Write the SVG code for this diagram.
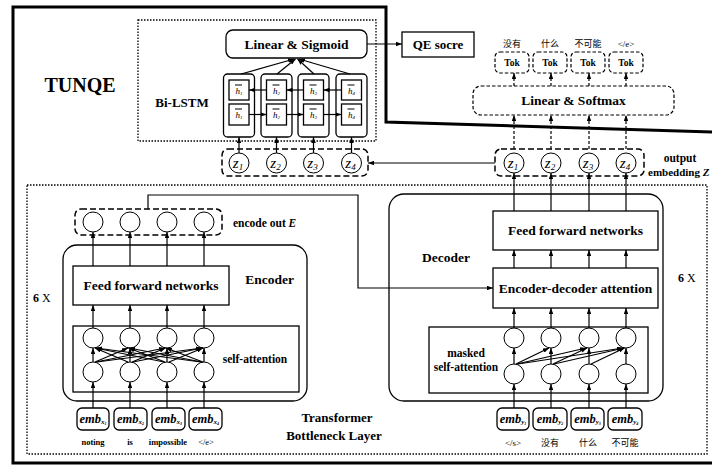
<svg xmlns="http://www.w3.org/2000/svg" width="712" height="466" viewBox="0 0 712 466">
<defs>
<marker id="ah" viewBox="0 0 8 6" refX="8" refY="3" markerWidth="6" markerHeight="4.5" orient="auto" markerUnits="userSpaceOnUse">
<path d="M0,0 L8,3 L0,6 z" fill="#000"/>
</marker>
<style>
.t{font-family:"Liberation Serif","Times New Roman",serif;font-weight:bold;fill:#000}
.n{font-family:"Liberation Serif","Times New Roman",serif;fill:#000}
.cjk{font-family:"Liberation Serif","Noto Sans CJK SC",serif;fill:#000}
.box{fill:#fff;stroke:#000;stroke-width:1.3}
.dash{fill:none;stroke:#000;stroke-width:1.5;stroke-dasharray:6 3}
.dash2{fill:none;stroke:#000;stroke-width:1.2;stroke-dasharray:3.5 2}
.dot{fill:none;stroke:#000;stroke-width:1.3;stroke-dasharray:1.5 1.5}
.c{fill:#fff;stroke:#000;stroke-width:1}
.a{stroke:#000;stroke-width:1.2;fill:none;marker-end:url(#ah)}
.ad{stroke:#000;stroke-width:1.2;fill:none;stroke-dasharray:3 2;marker-end:url(#ah)}
.l{stroke:#000;stroke-width:1;fill:none}
</style>
</defs>
<rect width="712" height="466" fill="#fff"/>

<!-- outer thick frame -->
<path d="M712,463 L13,463 L13,7 L386,7 L386,122 L712,132" fill="none" stroke="#000" stroke-width="3"/>

<g id="title"><text class="t" x="80" y="92" font-size="20" text-anchor="middle">TUNQE</text></g>

<!-- Bi-LSTM region -->
<g id="bilstm">
<rect class="dot" x="138" y="20" width="238" height="121"/>
<text class="t" x="182" y="107" font-size="13" text-anchor="middle">Bi-LSTM</text>
</g>
<g id="linear-sigmoid">
<rect class="box" x="226" y="30" width="141" height="28" rx="7"/>
<text class="t" x="296.5" y="49" font-size="13.5" text-anchor="middle">Linear &amp; Sigmoid</text>
</g>
<g id="qe-score">
<rect class="box" x="402" y="32" width="72" height="25"/>
<text class="t" x="438" y="49" font-size="13" text-anchor="middle">QE socre</text>
</g>

<g id="lstm-cells">
<rect class="box" x="223.5" y="74" width="31" height="63" rx="4"/>
<rect class="box" x="261" y="74" width="31" height="63" rx="4"/>
<rect class="box" x="298" y="74" width="31" height="63" rx="4"/>
<rect class="box" x="336" y="74" width="31" height="63" rx="4"/>
<rect class="box" x="229" y="80" width="20" height="20"/>
<rect class="box" x="229" y="104" width="20" height="21"/>
<rect class="box" x="266.5" y="80" width="20" height="20"/>
<rect class="box" x="266.5" y="104" width="20" height="21"/>
<rect class="box" x="303.5" y="80" width="20" height="20"/>
<rect class="box" x="303.5" y="104" width="20" height="21"/>
<rect class="box" x="341.5" y="80" width="20" height="20"/>
<rect class="box" x="341.5" y="104" width="20" height="21"/>
<g class="n" font-size="9" font-style="italic" text-anchor="middle">
<text x="239" y="94">h<tspan font-size="5" dy="1">1</tspan></text>
<text x="239" y="118">h<tspan font-size="5" dy="1">1</tspan></text>
<text x="276.5" y="94">h<tspan font-size="5" dy="1">2</tspan></text>
<text x="276.5" y="118">h<tspan font-size="5" dy="1">2</tspan></text>
<text x="313.5" y="94">h<tspan font-size="5" dy="1">3</tspan></text>
<text x="313.5" y="118">h<tspan font-size="5" dy="1">3</tspan></text>
<text x="351.5" y="94">h<tspan font-size="5" dy="1">4</tspan></text>
<text x="351.5" y="118">h<tspan font-size="5" dy="1">4</tspan></text>
</g>
<g class="l" stroke-width="0.7">
<path d="M235,85h7M235,109h7M272.5,85h7M272.5,109h7M309.5,85h7M309.5,109h7M347.5,85h7M347.5,109h7"/>
</g>
</g>

<g id="z-left">
<rect class="dash" x="222" y="149" width="146" height="27" rx="6"/>
<circle class="c" cx="239" cy="163" r="10"/>
<circle class="c" cx="276.5" cy="163" r="10"/>
<circle class="c" cx="313.5" cy="163" r="10"/>
<circle class="c" cx="351.5" cy="163" r="10"/>
<g class="n" font-size="15" font-style="italic" text-anchor="middle">
<text x="238" y="168">z<tspan font-size="9" dy="2">1</tspan></text>
<text x="275.5" y="168">z<tspan font-size="9" dy="2">2</tspan></text>
<text x="312.5" y="168">z<tspan font-size="9" dy="2">3</tspan></text>
<text x="350.5" y="168">z<tspan font-size="9" dy="2">4</tspan></text>
</g>
</g>

<!-- right top: output -->
<g id="tok">
<rect class="dash2" x="495" y="52" width="34" height="21" rx="5"/>
<rect class="dash2" x="533" y="52" width="34" height="21" rx="5"/>
<rect class="dash2" x="571" y="52" width="34" height="21" rx="5"/>
<rect class="dash2" x="609" y="52" width="34" height="21" rx="5"/>
<g class="t" font-size="9.5" text-anchor="middle">
<text x="512" y="66">Tok</text><text x="550" y="66">Tok</text><text x="588" y="66">Tok</text><text x="626" y="66">Tok</text>
</g>
<g class="cjk" font-size="9" text-anchor="middle">
<text x="512" y="47">没有</text><text x="550" y="47">什么</text><text x="588" y="47">不可能</text><text x="626" y="47">&lt;/e&gt;</text>
</g>
</g>
<g id="linear-softmax">
<rect class="dash2" x="473" y="86" width="201" height="29" rx="8"/>
<text class="t" x="573.5" y="105" font-size="13.5" text-anchor="middle">Linear &amp; Softmax</text>
</g>
<g id="z-right">
<rect class="dash" x="495" y="149" width="149" height="27" rx="6"/>
<circle class="c" cx="514" cy="163" r="10"/>
<circle class="c" cx="551" cy="163" r="10"/>
<circle class="c" cx="589" cy="163" r="10"/>
<circle class="c" cx="626" cy="163" r="10"/>
<g class="n" font-size="15" font-style="italic" text-anchor="middle">
<text x="513" y="168">z<tspan font-size="9" dy="2">1</tspan></text>
<text x="550" y="168">z<tspan font-size="9" dy="2">2</tspan></text>
<text x="588" y="168">z<tspan font-size="9" dy="2">3</tspan></text>
<text x="625" y="168">z<tspan font-size="9" dy="2">4</tspan></text>
</g>
<text class="t" x="680" y="162" font-size="11.5" text-anchor="middle">output</text>
<text class="t" x="648" y="176" font-size="11">embedding <tspan font-style="italic">Z</tspan></text>
</g>

<!-- Transformer region -->
<g id="transformer">
<rect class="dot" x="27" y="185" width="680" height="269"/>
<text class="t" x="337" y="422" font-size="13" text-anchor="middle">Transformer</text>
<text class="t" x="334" y="440" font-size="13" text-anchor="middle">Bottleneck Layer</text>
<text class="t" x="33" y="302" font-size="12">6 <tspan font-weight="normal">X</tspan></text>
<text class="t" x="678" y="282" font-size="12">6 <tspan font-weight="normal">X</tspan></text>
</g>

<g id="encoder">
<rect class="box" x="63" y="245" width="244" height="156" rx="14"/>
<text class="t" x="269.5" y="284" font-size="13.5" text-anchor="middle">Encoder</text>
<rect class="box" x="73" y="266" width="156" height="39"/>
<text class="t" x="151" y="290" font-size="13.5" text-anchor="middle">Feed forward networks</text>
<rect class="box" x="73" y="326" width="226" height="66"/>
<text class="t" x="255" y="363" font-size="11.5" text-anchor="middle">self-attention</text>
<g>
<circle class="c" cx="93" cy="338" r="10"/><circle class="c" cx="130" cy="338" r="10"/><circle class="c" cx="167" cy="338" r="10"/><circle class="c" cx="204" cy="338" r="10"/>
<circle class="c" cx="93" cy="372" r="10"/><circle class="c" cx="130" cy="372" r="10"/><circle class="c" cx="167" cy="372" r="10"/><circle class="c" cx="204" cy="372" r="10"/>
</g>
</g>
<g id="encode-out">
<rect class="dash" x="75" y="209" width="147" height="26" rx="6"/>
<circle class="c" cx="93" cy="222" r="10"/><circle class="c" cx="130" cy="222" r="10"/><circle class="c" cx="167" cy="222" r="10"/><circle class="c" cx="204" cy="222" r="10"/>
<text class="t" x="233" y="227" font-size="11.5">encode out <tspan font-style="italic">E</tspan></text>
</g>
<g id="emb-x">
<rect class="box" x="77" y="408" width="32" height="22" rx="5"/>
<rect class="box" x="114" y="408" width="33" height="22" rx="5"/>
<rect class="box" x="152" y="408" width="33" height="22" rx="5"/>
<rect class="box" x="189" y="408" width="33" height="22" rx="5"/>
<g class="t" font-size="12.5" font-style="italic" text-anchor="middle">
<text x="93" y="423">emb<tspan font-size="7" dy="1">x</tspan><tspan font-size="4" dy="1">1</tspan></text>
<text x="130.5" y="423">emb<tspan font-size="7" dy="1">x</tspan><tspan font-size="4" dy="1">2</tspan></text>
<text x="168.5" y="423">emb<tspan font-size="7" dy="1">x</tspan><tspan font-size="4" dy="1">3</tspan></text>
<text x="205.5" y="423">emb<tspan font-size="7" dy="1">x</tspan><tspan font-size="4" dy="1">4</tspan></text>
</g>
<g class="t" font-size="8.5" text-anchor="middle">
<text x="93" y="445">noting</text><text x="130" y="445">is</text><text x="168" y="445">impossible</text><text x="206" y="445" font-weight="normal">&lt;/e&gt;</text>
</g>
</g>

<g id="decoder">
<rect class="box" x="389" y="194" width="274" height="207" rx="15"/>
<text class="t" x="446" y="262" font-size="13.5" text-anchor="middle">Decoder</text>
<rect class="box" x="493" y="211" width="165" height="39"/>
<text class="t" x="575.5" y="235" font-size="13.5" text-anchor="middle">Feed forward networks</text>
<rect class="box" x="493" y="268" width="165" height="40"/>
<text class="t" x="575.5" y="293" font-size="13.5" text-anchor="middle">Encoder-decoder attention</text>
<rect class="box" x="429" y="327" width="219" height="66"/>
<text class="t" x="466" y="357" font-size="11.5" text-anchor="middle">masked</text>
<text class="t" x="466" y="371" font-size="11.5" text-anchor="middle">self-attention</text>
<circle class="c" cx="514" cy="338" r="10"/><circle class="c" cx="551" cy="338" r="10"/><circle class="c" cx="589" cy="338" r="10"/><circle class="c" cx="626" cy="338" r="10"/>
<circle class="c" cx="514" cy="374" r="10"/><circle class="c" cx="551" cy="374" r="10"/><circle class="c" cx="589" cy="374" r="10"/><circle class="c" cx="626" cy="374" r="10"/>
</g>
<g id="emb-y">
<rect class="box" x="497" y="408" width="32" height="22" rx="5"/>
<rect class="box" x="533" y="408" width="34" height="22" rx="5"/>
<rect class="box" x="571" y="408" width="33" height="22" rx="5"/>
<rect class="box" x="608" y="408" width="34" height="22" rx="5"/>
<g class="t" font-size="12.5" font-style="italic" text-anchor="middle">
<text x="513" y="423">emb<tspan font-size="7" dy="1">y</tspan><tspan font-size="4" dy="1">1</tspan></text>
<text x="550" y="423">emb<tspan font-size="7" dy="1">y</tspan><tspan font-size="4" dy="1">2</tspan></text>
<text x="587.5" y="423">emb<tspan font-size="7" dy="1">y</tspan><tspan font-size="4" dy="1">3</tspan></text>
<text x="625" y="423">emb<tspan font-size="7" dy="1">y</tspan><tspan font-size="4" dy="1">4</tspan></text>
</g>
<g class="cjk" font-size="9" text-anchor="middle">
<text x="513" y="446">&lt;/s&gt;</text><text x="550" y="446">没有</text><text x="588" y="446">什么</text><text x="625" y="446">不可能</text>
</g>
</g>

<g id="connectors">
<path class="a" d="M367,44 H402"/>
<path class="a" d="M241,74 L294,59"/>
<path class="a" d="M277,74 L295.5,59"/>
<path class="a" d="M314,74 L297.5,59"/>
<path class="a" d="M350,74 L299,59"/>
<path class="a" d="M266.5,90 H249"/>
<path class="a" d="M303.5,90 H286.5"/>
<path class="a" d="M341.5,90 H323.5"/>
<path class="a" d="M249,114.5 H266.5"/>
<path class="a" d="M286.5,114.5 H303.5"/>
<path class="a" d="M323.5,114.5 H341.5"/>
<path class="a" d="M239,153 V137"/>
<path class="a" d="M276.5,153 V137"/>
<path class="a" d="M313.5,153 V137"/>
<path class="a" d="M351.5,153 V137"/>
<path class="a" d="M495,163 H368"/>
<path class="ad" d="M514,149 V115"/><path class="ad" d="M551,149 V115"/><path class="ad" d="M589,149 V115"/><path class="ad" d="M626,149 V115"/>
<path class="ad" d="M514,86 V73"/><path class="ad" d="M551,86 V73"/><path class="ad" d="M589,86 V73"/><path class="ad" d="M626,86 V73"/>
<path class="a" d="M514,211 V173"/><path class="a" d="M551,211 V173"/><path class="a" d="M589,211 V173"/><path class="a" d="M626,211 V173"/>
<path class="a" d="M514,268 V250"/><path class="a" d="M551,268 V250"/><path class="a" d="M589,268 V250"/><path class="a" d="M626,268 V250"/>
<path class="a" d="M514,328 V308"/><path class="a" d="M551,328 V308"/><path class="a" d="M589,328 V308"/><path class="a" d="M626,328 V308"/>
<path class="a" d="M514,364 V348"/>
<path class="a" d="M516,364 L549,348"/>
<path class="a" d="M517,364 L586,348"/>
<path class="a" d="M518,364 L623,348"/>
<path class="a" d="M551,364 V348"/>
<path class="a" d="M553,364 L587,348"/>
<path class="a" d="M554,364 L624,348"/>
<path class="a" d="M589,364 V348"/>
<path class="a" d="M591,364 L624.5,348"/>
<path class="a" d="M626,364 V348"/>
<path class="a" d="M514,408 V384"/><path class="a" d="M551,408 V384"/><path class="a" d="M589,408 V384"/><path class="a" d="M626,408 V384"/>
<path class="a" d="M93,408 V382"/><path class="a" d="M130,408 V382"/><path class="a" d="M167,408 V382"/><path class="a" d="M204,408 V382"/>
<path class="a" d="M93,362 V348"/><path class="a" d="M95,362 L128,348"/><path class="a" d="M96,362 L165,348"/><path class="a" d="M97,362 L202,348"/>
<path class="a" d="M128,362 L95,348"/><path class="a" d="M130,362 V348"/><path class="a" d="M132,362 L165.5,348"/><path class="a" d="M133,362 L202.5,348"/>
<path class="a" d="M164,362 L95.5,348"/><path class="a" d="M165,362 L128.5,348"/><path class="a" d="M167,362 V348"/><path class="a" d="M169,362 L203,348"/>
<path class="a" d="M201,362 L96,348"/><path class="a" d="M202,362 L129,348"/><path class="a" d="M203,362 L166,348"/><path class="a" d="M204,362 V348"/>
<path class="a" d="M93,328 V305"/><path class="a" d="M130,328 V305"/><path class="a" d="M167,328 V305"/><path class="a" d="M204,328 V305"/>
<path class="a" d="M93,266 V232"/><path class="a" d="M130,266 V232"/><path class="a" d="M167,266 V232"/><path class="a" d="M204,266 V232"/>
<path class="a" d="M148,209 V195 H358 V288 H493"/>
</g>
</svg>
